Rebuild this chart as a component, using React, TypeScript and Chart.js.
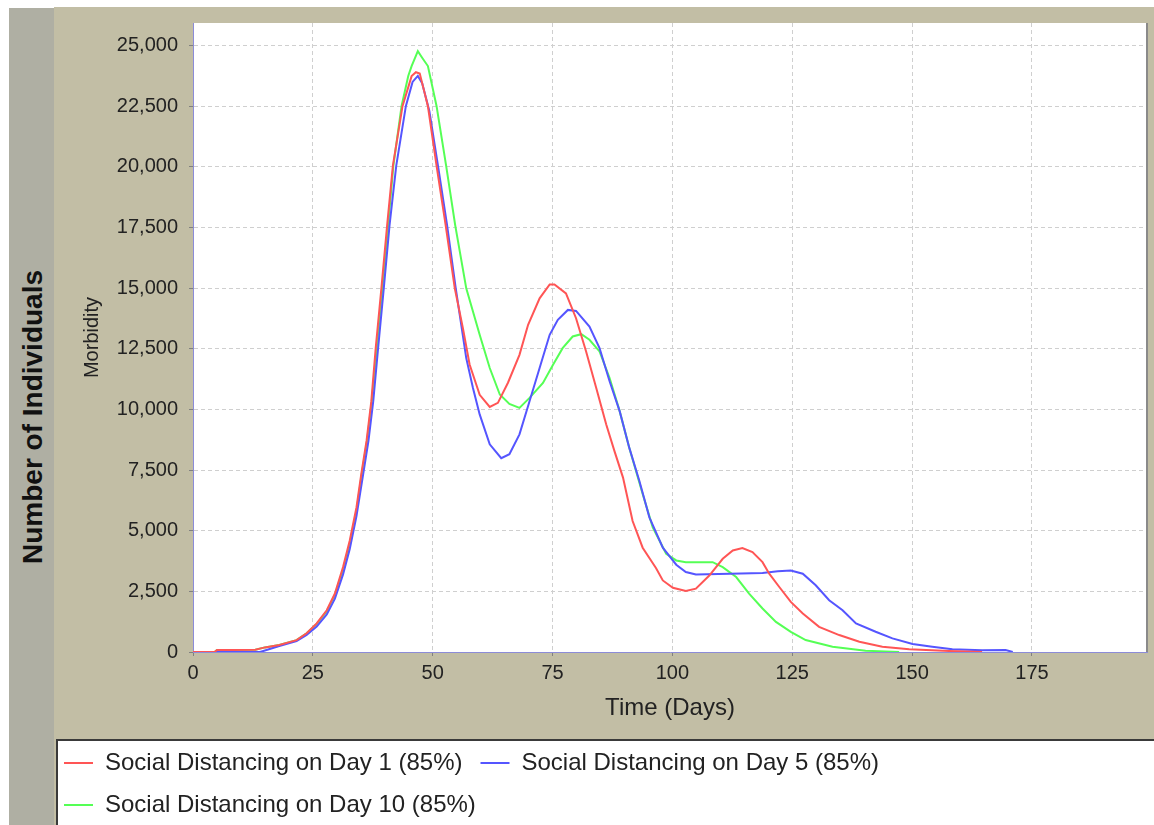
import React, { useEffect, useRef } from "react";
import { Chart, registerables } from "chart.js";

Chart.register(...registerables);

const FONT = '"Liberation Sans", Arial, Helvetica, sans-serif';

// ---- Data ----
const seriesLabels = [
  "Social Distancing on Day 1 (85%)",
  "Social Distancing on Day 5 (85%)",
  "Social Distancing on Day 10 (85%)",
];
const seriesColors = ["#ff5555", "#5555ff", "#55ff55"];

const day1Days = [0, 4.5, 5, 8, 13, 15, 18, 21.6, 23.7, 25.8, 27.9, 29.6, 31.3, 32.7, 34.1, 35.1, 36.2, 37.2, 38.1, 39.3, 40.5, 41.7, 43.7, 45.6, 46.5, 47.3, 48.3, 49.0, 50.8, 52.7, 54.6, 56.3, 57.7, 59.8, 61.9, 63.6, 65.7, 68.1, 69.9, 72.3, 74.4, 75.4, 77.8, 79.9, 82.0, 84.1, 86.2, 87.9, 89.7, 91.7, 93.8, 96.6, 98.0, 100.1, 102.8, 104.9, 107.7, 110.5, 112.6, 114.6, 116.7, 118.8, 120.2, 122.3, 124.7, 127.2, 130.6, 134.8, 139.0, 143.8, 149.4, 157.7, 164.6];
const day1Values = [0, 0, 80, 80, 90, 190, 290, 490, 770, 1180, 1720, 2410, 3500, 4600, 5960, 7330, 8700, 10340, 12500, 15000, 17600, 20050, 22500, 23740, 23900, 23850, 23060, 22500, 20050, 17600, 15000, 13350, 11850, 10600, 10100, 10270, 11100, 12250, 13490, 14580, 15150, 15150, 14780, 13760, 12390, 10890, 9380, 8290, 7190, 5400, 4300, 3450, 2950, 2650, 2515, 2612, 3150, 3844, 4185, 4281, 4117, 3705, 3229, 2679, 2064, 1588, 1038, 698, 423, 217, 111, 41, 0];

const day5Days = [0, 14, 15, 18, 21.6, 23.7, 25.8, 27.9, 29.6, 31.3, 32.7, 34.1, 35.5, 36.6, 37.6, 38.6, 39.8, 41.0, 42.4, 44.4, 45.8, 46.9, 47.8, 49.3, 51.1, 53.0, 54.8, 57.0, 58.4, 59.8, 61.9, 64.3, 66.0, 68.1, 70.2, 72.3, 74.4, 76.1, 78.2, 79.9, 82.7, 84.8, 86.9, 89.0, 91.0, 93.1, 95.2, 98.0, 100.8, 102.8, 104.9, 112.0, 118.8, 122.0, 124.7, 127.2, 129.9, 132.7, 135.5, 138.3, 142.4, 145.9, 150.1, 154.2, 158.4, 164.6, 169.5, 171.0];
const day5Values = [0, 0, 60, 250, 450, 700, 1050, 1550, 2200, 3200, 4250, 5600, 7330, 8700, 10340, 12500, 15000, 17600, 20050, 22500, 23500, 23750, 23450, 22300, 20050, 17600, 15000, 12116, 10885, 9794, 8563, 7988, 8153, 8973, 10340, 11706, 13076, 13692, 14102, 14061, 13417, 12526, 11160, 9929, 8424, 7057, 5550, 4300, 3600, 3295, 3200, 3230, 3260, 3330, 3360, 3229, 2749, 2134, 1723, 1178, 833, 562, 328, 217, 111, 70, 82, 0];

const day10Days = [0, 4.5, 5, 8, 13, 15, 18, 21.6, 23.7, 25.8, 27.9, 29.6, 31.3, 32.7, 34.1, 35.2, 36.3, 37.3, 38.3, 39.5, 40.7, 41.8, 43.5, 44.9, 45.6, 46.9, 47.8, 49.0, 50.8, 52.8, 54.7, 57.0, 59.8, 61.9, 64.0, 66.0, 68.1, 70.2, 73.0, 75.1, 77.1, 79.2, 81.0, 82.7, 84.8, 86.9, 89.0, 91.0, 93.8, 95.9, 98.7, 100.8, 102.8, 108.4, 110.5, 113.3, 116.0, 118.8, 121.6, 124.7, 127.8, 133.4, 140.3, 147.3];
const day10Values = [0, 0, 80, 80, 90, 190, 290, 490, 770, 1150, 1680, 2350, 3400, 4450, 5800, 7330, 8700, 10340, 12500, 15000, 17600, 20050, 22500, 23744, 24155, 24770, 24500, 24155, 22510, 20050, 17590, 14990, 13077, 11706, 10614, 10229, 10065, 10475, 11091, 11845, 12526, 13007, 13101, 12871, 12391, 11296, 9929, 8424, 6511, 5141, 4050, 3775, 3705, 3705, 3500, 3090, 2408, 1793, 1243, 833, 492, 217, 55, 0];

const xTickValues = [0, 25, 50, 75, 100, 125, 150, 175];
const yTickValues = [0, 2500, 5000, 7500, 10000, 12500, 15000, 17500, 20000, 22500, 25000];
const xMin = 0;
const xMax = 199;
const yMin = 0;
const yMax = 25930;
const xTitle = "Time (Days)";
const yTitle = "Morbidity";
const outerTitle = "Number of Individuals";

function zip(xs: number[], ys: number[]) {
  const n = Math.min(xs.length, ys.length);
  const out: { x: number; y: number }[] = [];
  for (let i = 0; i < n; i++) out.push({ x: xs[i], y: ys[i] });
  return out;
}

const plotFrame = {
  id: "plotFrame",
  beforeDraw(chart: any) {
    const { ctx, chartArea } = chart;
    const { left, top, right, bottom } = chartArea;
    ctx.save();
    ctx.fillStyle = "#ffffff";
    ctx.fillRect(left, top, right - left, bottom - top);
    ctx.restore();
  },
  afterDraw(chart: any) {
    const { ctx, chartArea } = chart;
    const { top, right, bottom } = chartArea;
    ctx.save();
    ctx.strokeStyle = "#8a8a8a";
    ctx.lineWidth = 2;
    ctx.beginPath();
    ctx.moveTo(right, top);
    ctx.lineTo(right, bottom);
    ctx.stroke();
    ctx.restore();
  },
};

export default function App() {
  const canvasRef = useRef<HTMLCanvasElement | null>(null);

  useEffect(() => {
    if (!canvasRef.current) return;
    const seriesPoints = [
      zip(day1Days, day1Values),
      zip(day5Days, day5Values),
      zip(day10Days, day10Values),
    ];
    const gridOpts = {
      color: "#cfcfcf",
      lineWidth: 1,
      tickLength: 4,
      tickColor: "#808080",
      tickBorderDash: [],
    };
    const chart = new Chart(canvasRef.current, {
      type: "line",
      data: {
        datasets: seriesLabels.map((label, i) => ({
          label,
          data: seriesPoints[i],
          borderColor: seriesColors[i],
          backgroundColor: seriesColors[i],
          borderWidth: 2,
          pointRadius: 0,
          tension: 0,
          fill: false,
        })),
      },
      options: {
        responsive: false,
        animation: false,
        devicePixelRatio: 1,
        layout: { padding: { left: 46, right: 7, top: 20, bottom: 0 } },
        plugins: {
          legend: {
            position: "bottom",
            align: "start",
            labels: {
              font: { family: FONT, size: 24 },
              color: "#222222",
              boxWidth: 29,
              boxHeight: 2,
              padding: 18,
              generateLabels: (c: any) =>
                Chart.defaults.plugins.legend.labels
                  .generateLabels(c)
                  .map((l: any) => ({ ...l, lineWidth: 0 })),
            },
          },
          tooltip: { enabled: false },
        },
        scales: {
          x: {
            type: "linear",
            min: xMin,
            max: xMax,
            afterBuildTicks: (s: any) => {
              s.ticks = xTickValues.map((v) => ({ value: v }));
            },
            afterFit: (s: any) => {
              s.height = 81;
            },
            ticks: {
              font: { family: FONT, size: 20 },
              color: "#222222",
              padding: 5,
              maxRotation: 0,
              autoSkip: false,
            },
            grid: gridOpts,
            border: { color: "#8c8cd8", width: 1, dash: [4, 3] },
            title: {
              display: true,
              text: xTitle,
              font: { family: FONT, size: 24 },
              color: "#222222",
              padding: { top: 0, bottom: 10 },
            },
          },
          y: {
            type: "linear",
            min: yMin,
            max: yMax,
            afterBuildTicks: (s: any) => {
              s.ticks = yTickValues.map((v) => ({ value: v }));
            },
            afterFit: (s: any) => {
              s.width = 147;
            },
            ticks: {
              font: { family: FONT, size: 20 },
              color: "#222222",
              padding: 11,
              autoSkip: false,
              callback: (v: any) => Number(v).toLocaleString("en-US"),
            },
            grid: gridOpts,
            border: { color: "#8c8cd8", width: 1, dash: [4, 3] },
            title: {
              display: true,
              text: yTitle,
              font: { family: FONT, size: 20 },
              color: "#222222",
              padding: { top: 34, bottom: 0 },
            },
          },
        },
      },
      plugins: [plotFrame],
    } as any);
    return () => chart.destroy();
  }, []);

  return (
    <div
      style={{
        position: "absolute",
        left: 0,
        top: 0,
        width: 1154,
        height: 825,
        overflow: "hidden",
        background: "#ffffff",
      }}
    >
      <div style={{ position: "absolute", left: 9, top: 8, width: 45, height: 817, background: "#afafa3" }} />
      <div style={{ position: "absolute", left: 54, top: 7, width: 1100, height: 818, background: "#c2bea5" }} />
      <div
        style={{
          position: "absolute",
          left: 56,
          top: 739,
          width: 1100,
          height: 100,
          background: "#ffffff",
          borderTop: "2px solid #3a3a3a",
          borderLeft: "2px solid #3a3a3a",
        }}
      />
      <div
        style={{
          position: "absolute",
          left: 33,
          top: 417,
          transform: "translate(-50%, -50%) rotate(-90deg)",
          whiteSpace: "nowrap",
          fontFamily: FONT,
          fontWeight: "bold",
          fontSize: 28,
          color: "#111111",
        }}
      >
        {outerTitle}
      </div>
      <canvas
        ref={canvasRef}
        width={1154}
        height={827}
        style={{ position: "absolute", left: 0, top: 0, display: "block" }}
      />
    </div>
  );
}
